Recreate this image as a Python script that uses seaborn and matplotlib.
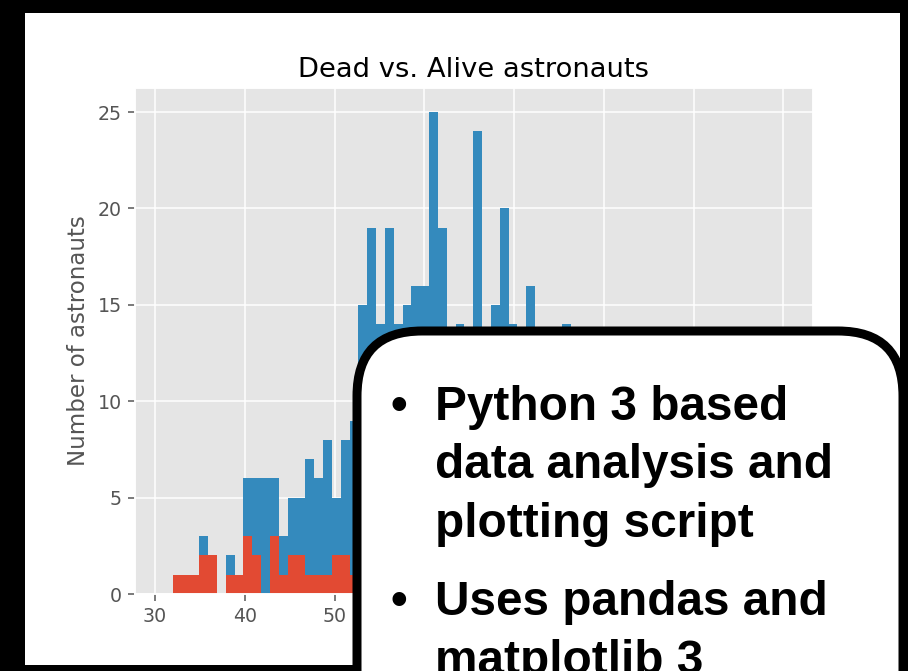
import numpy as np
import pandas as pd
import matplotlib
matplotlib.use('Agg')
import matplotlib.pyplot as plt
from matplotlib.patches import Rectangle, FancyBboxPatch
import seaborn as sns

# histogram bins (age in years)
BIN_START = 31.97
BIN_WIDTH = 0.985
N_BINS = 70

# astronauts per bin
dead = [1, 1, 1, 2, 2, 0, 1, 1, 3, 2,
        0, 3, 1, 2, 2, 1, 1, 1, 2, 2,
        1, 2, 1, 2, 1, 2, 1, 1, 2, 1,
        2, 1, 1, 2, 1, 1, 2, 1, 1, 2,
        1, 1, 2, 1, 1, 2, 1, 1, 2, 1,
        1, 2, 1, 1, 1, 2, 1, 1, 0, 1,
        1, 0, 1, 0, 1, 0, 0, 1, 0, 1]
alive = [0, 0, 0, 1, 0, 0, 1, 0, 3, 4,
         6, 3, 2, 3, 3, 6, 5, 7, 3, 6,
         8, 13, 18, 12, 18, 12, 14, 15, 14, 24,
         17, 11, 13, 9, 23, 9, 13, 19, 13, 9,
         15, 11, 8, 10, 13, 7, 9, 7, 7, 6,
         7, 4, 6, 4, 5, 3, 3, 3, 3, 2,
         1, 2, 1, 1, 1, 1, 1, 0, 0, 0]

TITLE = 'Dead vs. Alive astronauts'
YLABEL = 'Number of astronauts'
BULLETS = [['Python 3 based', 'data analysis and', 'plotting script'],
           ['Uses pandas and', 'matplotlib 3']]

W, H, DPI = 908, 671, 137

plt.style.use('ggplot')
fig = plt.figure(figsize=(W / DPI, H / DPI), dpi=DPI)
fig.patch.set_facecolor('black')

# white slide area inside the black frame
fig.add_artist(Rectangle((25 / W, 1 - 665 / H), 875 / W, 652 / H,
                         transform=fig.transFigure, facecolor='white',
                         edgecolor='none', zorder=-5))

ax = fig.add_axes([135 / W, 1 - 594 / H, 678 / W, 506 / H])

edges = list(BIN_START + BIN_WIDTH * np.arange(N_BINS + 1))
centers = [(a + b) / 2 for a, b in zip(edges[:-1], edges[1:])]
df = pd.DataFrame({
    'age': centers + centers,
    'count': dead + alive,
    'status': ['Dead'] * N_BINS + ['Alive'] * N_BINS,
})

sns.histplot(data=df, x='age', weights='count', hue='status',
             hue_order=['Alive', 'Dead'], bins=edges, multiple='stack',
             element='step', fill=True, alpha=1, linewidth=0,
             palette={'Dead': '#E24A33', 'Alive': '#348ABD'},
             legend=False, ax=ax)

ax.set_xlim(27.77, 103.31)
ax.set_ylim(0, 26.25)
ax.set_yticks([0, 5, 10, 15, 20, 25])
ax.set_xlabel('')
ax.set_ylabel(YLABEL)
ax.set_title(TITLE)


def px(x, y):
    # pixel from top-left -> display coords
    return x, H - y


# rounded callout box
bx, by = px(357, 331)
box = FancyBboxPatch((bx, by - 450), 546, 450,
                     boxstyle='round,pad=0,rounding_size=65',
                     transform=None, facecolor='white', edgecolor='black',
                     linewidth=9 * 72 / DPI, zorder=10)
fig.add_artist(box)

font = {'family': 'Liberation Sans', 'weight': 'bold',
        'size': 47.8 * 72 / DPI, 'color': 'black'}
baselines = [[420, 478.5, 537], [615, 673.5]]
for lines, ys in zip(BULLETS, baselines):
    fig.text(*px(399, ys[0]), '\u2022', ha='center', va='baseline',
             transform=None, zorder=11, fontdict=font)
    for txt, y in zip(lines, ys):
        fig.text(*px(435, y), txt, ha='left', va='baseline',
                 transform=None, zorder=11, fontdict=font)

fig.savefig('out.png', dpi=DPI, facecolor=fig.get_facecolor())
